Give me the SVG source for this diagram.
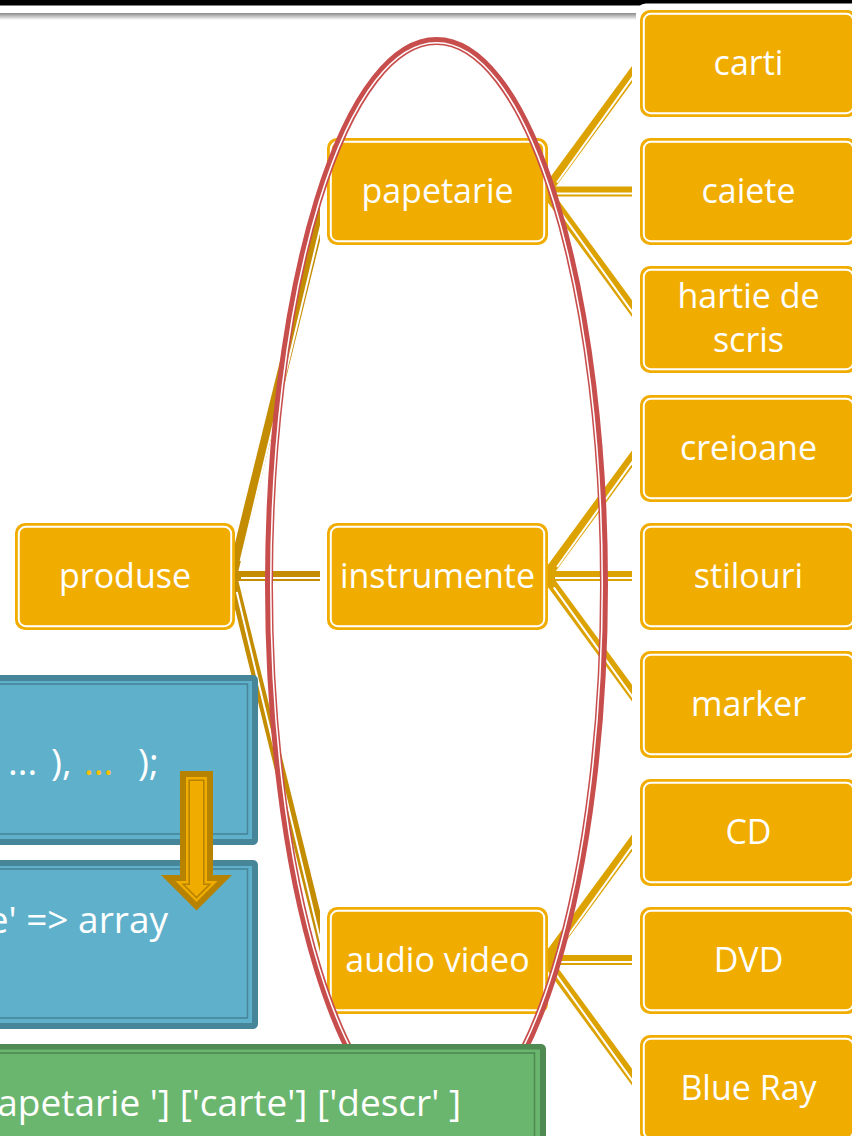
<svg xmlns="http://www.w3.org/2000/svg" width="852" height="1136" viewBox="0 0 852 1136">
<defs>
<linearGradient id="hdr" x1="0" y1="0" x2="0" y2="1">
<stop offset="0" stop-color="#8a8a8a"/>
<stop offset="1" stop-color="#ffffff"/>
</linearGradient>
<clipPath id="clipL"><rect x="200" y="0" width="120" height="1136"/></clipPath>
<clipPath id="clipR"><rect x="540" y="0" width="92" height="1136"/></clipPath>
</defs>
<style>
.box{fill:#F0AD00}
.inner{fill:none;stroke:#ffffff;stroke-width:2}
.lbl{font-family:"Open Sans","Noto Sans",sans-serif;font-size:34px;fill:#ffffff;text-anchor:middle}
.big{font-family:"Open Sans","Noto Sans",sans-serif;font-size:37px;fill:#ffffff}
.cl{stroke:#C48C00;stroke-width:10;fill:none}
.cr{stroke:#DCA200;stroke-width:10;fill:none}
.cw{stroke:#ffffff;stroke-width:2;fill:none}
.bdark{fill:#478699}
.blight{fill:#5FB1CB}
.bthin{fill:none;stroke:#478699;stroke-width:1.6}
</style>
<rect x="0" y="0" width="852" height="1136" fill="#ffffff"/>
<!-- header -->
<rect x="0" y="0" width="852" height="5.5" fill="#000000"/>
<rect x="0" y="13" width="636" height="7" fill="url(#hdr)"/>
<rect x="636" y="3.5" width="230" height="30" rx="10" fill="#ffffff"/>

<!-- connectors -->
<g id="connectors">
<g clip-path="url(#clipL)">
<path class="cl" d="M232,576 L327,191.5"/>
<path class="cw" d="M240.6,561.1 L328.9,192"/>
<path class="cl" d="M232,576 L327,576"/>
<path class="cw" d="M241,578 L327,578"/>
<path class="cl" d="M232,576 L327,960"/>
<path class="cw" d="M236.8,591.9 L325.1,960.5"/>
</g>
<g clip-path="url(#clipR)">
<path class="cr" d="M546,191.5 L640,63.5"/>
<path class="cw" d="M557,182.5 L641.6,64.7"/>
<path class="cr" d="M546,191.5 L640,191.5"/>
<path class="cw" d="M555,193.5 L640,193.5"/>
<path class="cr" d="M546,191.5 L640,319.5"/>
<path class="cw" d="M553.8,202.9 L638.4,320.7"/>

<path class="cr" d="M546,576 L640,448"/>
<path class="cw" d="M557,567 L641.6,449.2"/>
<path class="cr" d="M546,576 L640,576"/>
<path class="cw" d="M555,578 L640,578"/>
<path class="cr" d="M546,576 L640,704"/>
<path class="cw" d="M553.8,587.4 L638.4,705.2"/>

<path class="cr" d="M546,960 L640,832"/>
<path class="cw" d="M557,951 L641.6,833.2"/>
<path class="cr" d="M546,960 L640,960"/>
<path class="cw" d="M555,962 L640,962"/>
<path class="cr" d="M546,960 L640,1088"/>
<path class="cw" d="M553.8,971.4 L638.4,1089.2"/>
</g>
</g>

<!-- nodes -->
<g id="produse"><rect class="box" x="15" y="523" width="220" height="107" rx="10"/><rect class="inner" x="18.8" y="526.8" width="212.4" height="99.4" rx="7"/><text class="lbl" x="125" y="588">produse</text></g>
<g id="papetarie"><rect class="box" x="327" y="138" width="221" height="107" rx="10"/><rect class="inner" x="330.8" y="141.8" width="213.4" height="99.4" rx="7"/><text class="lbl" x="437.5" y="203">papetarie</text></g>
<g id="instrumente"><rect class="box" x="327" y="523" width="221" height="107" rx="10"/><rect class="inner" x="330.8" y="526.8" width="213.4" height="99.4" rx="7"/><text class="lbl" x="437.5" y="588">instrumente</text></g>
<g id="audio-video"><rect class="box" x="327" y="907" width="221" height="107" rx="10"/><rect class="inner" x="330.8" y="910.8" width="213.4" height="99.4" rx="7"/><text class="lbl" x="437.5" y="972">audio video</text></g>

<g id="carti"><rect class="box" x="640" y="10" width="217" height="107" rx="10"/><rect class="inner" x="643.8" y="13.8" width="209.4" height="99.4" rx="7"/><text class="lbl" x="748.5" y="75">carti</text></g>
<g id="caiete"><rect class="box" x="640" y="138" width="217" height="107" rx="10"/><rect class="inner" x="643.8" y="141.8" width="209.4" height="99.4" rx="7"/><text class="lbl" x="748.5" y="203">caiete</text></g>
<g id="hartie"><rect class="box" x="640" y="266" width="217" height="107" rx="10"/><rect class="inner" x="643.8" y="269.8" width="209.4" height="99.4" rx="7"/><text class="lbl" x="748.5" y="308">hartie de</text><text class="lbl" x="748.5" y="352">scris</text></g>
<g id="creioane"><rect class="box" x="640" y="395" width="217" height="107" rx="10"/><rect class="inner" x="643.8" y="398.8" width="209.4" height="99.4" rx="7"/><text class="lbl" x="748.5" y="460">creioane</text></g>
<g id="stilouri"><rect class="box" x="640" y="523" width="217" height="107" rx="10"/><rect class="inner" x="643.8" y="526.8" width="209.4" height="99.4" rx="7"/><text class="lbl" x="748.5" y="588">stilouri</text></g>
<g id="marker"><rect class="box" x="640" y="651" width="217" height="107" rx="10"/><rect class="inner" x="643.8" y="654.8" width="209.4" height="99.4" rx="7"/><text class="lbl" x="748.5" y="716">marker</text></g>
<g id="cd"><rect class="box" x="640" y="779" width="217" height="107" rx="10"/><rect class="inner" x="643.8" y="782.8" width="209.4" height="99.4" rx="7"/><text class="lbl" x="748.5" y="844">CD</text></g>
<g id="dvd"><rect class="box" x="640" y="907" width="217" height="107" rx="10"/><rect class="inner" x="643.8" y="910.8" width="209.4" height="99.4" rx="7"/><text class="lbl" x="748.5" y="972">DVD</text></g>
<g id="blueray"><rect class="box" x="640" y="1035" width="217" height="107" rx="10"/><rect class="inner" x="643.8" y="1038.8" width="209.4" height="99.4" rx="7"/><text class="lbl" x="748.5" y="1100">Blue Ray</text></g>

<!-- red ellipse -->
<g id="ellipse">
<ellipse cx="436.5" cy="585" rx="167.5" ry="544" fill="none" stroke="#C84E4E" stroke-width="8"/>
<ellipse cx="436.5" cy="585" rx="165.75" ry="542.25" fill="none" stroke="#ffffff" stroke-width="1.5"/>
</g>

<!-- blue boxes -->
<g id="code1">
<rect class="bdark" x="-20" y="675" width="278" height="170" rx="5"/>
<rect class="blight" x="-20" y="681" width="272" height="158"/>
<rect class="bthin" x="-20" y="684" width="267.5" height="150"/>
<text class="big" y="775"><tspan x="8">...</tspan><tspan x="51">),</tspan><tspan x="84" fill="#FFC000">...</tspan><tspan x="138">);</tspan></text>
</g>
<g id="code2">
<rect class="bdark" x="-20" y="860" width="278" height="169" rx="5"/>
<rect class="blight" x="-20" y="866" width="272" height="157"/>
<rect class="bthin" x="-20" y="869" width="267.5" height="149"/>
<text class="big" x="168" y="933" text-anchor="end">e' =&gt; array</text>
</g>

<!-- arrow -->
<g id="arrow">
<polygon points="180,771 213,771 213,875 232,875 196.5,910.5 161,875 180,875" fill="#B78200"/>
<polygon points="186,777 207,777 207,881 217.5,881 196.5,902 175.5,881 186,881" fill="#F0AD00"/>
<polygon points="189.2,780.2 203.8,780.2 203.8,884.2 209.8,884.2 196.5,897.5 183.2,884.2 189.2,884.2" fill="none" stroke="#B78200" stroke-width="1.6"/>
</g>

<!-- green box -->
<g id="access">
<rect x="-20" y="1044" width="566" height="120" rx="5" fill="#4E8A52"/>
<rect x="-20" y="1049.5" width="560" height="110" fill="#6BB66E"/>
<rect x="-20" y="1053" width="554.5" height="100" fill="none" stroke="#4E8A52" stroke-width="1.6"/>
<text class="big" x="461" y="1116" text-anchor="end">apetarie '] ['carte'] ['descr' ]</text>
</g>
</svg>
